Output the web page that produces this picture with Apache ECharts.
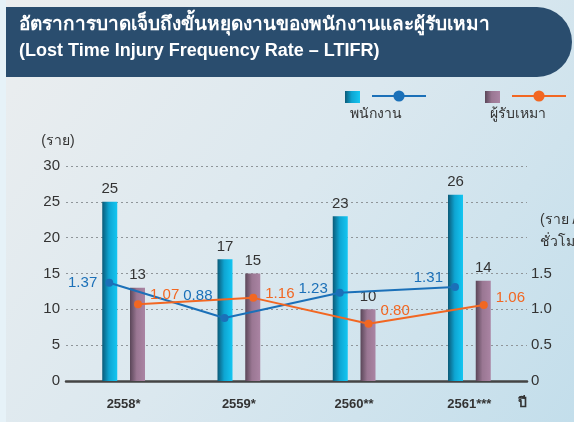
<!DOCTYPE html>
<html><head><meta charset="utf-8">
<script src="https://cdn.jsdelivr.net/npm/echarts@6/dist/echarts.min.js"></script>
<style>html,body{margin:0;padding:0;background:#fff}#c{width:574px;height:422px}</style>
</head><body><div id="c"></div>
<script>
const years = ['2558*', '2559*', '2560**', '2561***'];
const employeeCases = [25, 17, 23, 26];
const contractorCases = [13, 15, 10, 14];
const employeeLTIFR = [1.37, 0.88, 1.23, 1.31];
const contractorLTIFR = [1.07, 1.16, 0.80, 1.06];
const leftTicks = [0, 5, 10, 15, 20, 25, 30];
const rightTickLabels = ['0', '0.5', '1.0', '1.5'];

const FONT = '"Liberation Sans", Arial, "Noto Sans", sans-serif';
const slots = [];
years.forEach((y, i) => { for (let k = 0; k < 4; k++) slots.push(y + '_' + k); });
function slotData(arr, k) {
  const d = new Array(slots.length).fill(null);
  arr.forEach((v, i) => { d[i * 4 + k] = v; });
  return d;
}
const blueOffsets = [[0, 0], [0, -22], [0, -4], [0, -9]];
const orangeOffsets = [[0, -9], [0, -4], [0, -13], [0, -7]];
function lineData(arr, k, offs, pos) {
  const d = slotData(arr, k);
  return d.map((v, idx) => {
    if (v === null) return null;
    const i = Math.floor(idx / 4);
    return { value: v, label: { position: pos, offset: offs[i] } };
  });
}

const blueGrad = { type: 'linear', x: 0, y: 0, x2: 1, y2: 0, colorStops: [
  { offset: 0, color: '#0b5a78' }, { offset: 0.45, color: '#0ea5d2' }, { offset: 1, color: '#14c6f2' }] };
const purpleGrad = { type: 'linear', x: 0, y: 0, x2: 1, y2: 0, colorStops: [
  { offset: 0, color: '#5a4658' }, { offset: 0.45, color: '#9a7793' }, { offset: 1, color: '#aa84a3' }] };

const chart = echarts.init(document.getElementById('c'));
chart.setOption({
  animation: false,
  textStyle: { fontFamily: FONT },
  graphic: [
    { type: 'rect', z: -100, shape: { x: 0, y: 0, width: 574, height: 422 },
      style: { fill: { type: 'linear', x: 0, y: 0, x2: 1, y2: 1, colorStops: [
        { offset: 0, color: '#eceeef' }, { offset: 0.5, color: '#dbe8ef' }, { offset: 1, color: '#c3deeb' }] } } },
    { type: 'rect', z: -99, shape: { x: 0, y: 0, width: 6, height: 422 }, style: { fill: '#e6f2f8' } },
    { type: 'rect', z: 10, shape: { x: 6, y: 7, width: 566, height: 70, r: [0, 35, 35, 0] }, style: { fill: '#2a4d6e' } },
    { type: 'text', z: 11, left: 19, top: 15, style: { text: 'อัตราการบาดเจ็บถึงขั้นหยุดงานของพนักงานและผู้รับเหมา', fill: '#ffffff', font: 'bold 19px ' + FONT } },
    { type: 'text', z: 11, left: 19, top: 42, style: { text: '(Lost Time Injury Frequency Rate – LTIFR)', fill: '#ffffff', font: 'bold 18px ' + FONT } },
    { type: 'text', x: 376, y: 114, style: { text: 'พนักงาน', fill: '#333', font: '14px ' + FONT, align: 'center', verticalAlign: 'middle' } },
    { type: 'text', x: 518, y: 114, style: { text: 'ผู้รับเหมา', fill: '#333', font: '14px ' + FONT, align: 'center', verticalAlign: 'middle' } },
    { type: 'text', x: 58, y: 141, style: { text: '(ราย)', fill: '#333', font: '14px ' + FONT, align: 'center', verticalAlign: 'middle' } },
    { type: 'text', x: 540, y: 220, style: { text: '(ราย / ชั่วโมงทำงาน)', fill: '#333', font: '14px ' + FONT, verticalAlign: 'middle' } },
    { type: 'text', x: 540, y: 242, style: { text: 'ชั่วโมงทำงาน', fill: '#333', font: '14px ' + FONT, verticalAlign: 'middle' } },
    { type: 'text', x: 522, y: 403, style: { text: 'ปี', fill: '#333', font: 'bold 14px ' + FONT, align: 'center', verticalAlign: 'middle' } }
  ],
  legend: [
    { left: 340, top: 86, icon: 'rect', itemWidth: 15, itemHeight: 12, data: ['พนักงาน'], formatter: () => '', textStyle: { fontSize: 1 } },
    { left: 366, top: 84, itemWidth: 54, itemHeight: 14, data: ['LTIFR พนักงาน'], formatter: () => '', textStyle: { fontSize: 1 } },
    { left: 480, top: 86, icon: 'rect', itemWidth: 15, itemHeight: 12, data: ['ผู้รับเหมา'], formatter: () => '', textStyle: { fontSize: 1 } },
    { left: 506, top: 84, itemWidth: 54, itemHeight: 14, data: ['LTIFR ผู้รับเหมา'], formatter: () => '', textStyle: { fontSize: 1 } }
  ],
  grid: { left: 66, right: 47, top: 166, bottom: 41 },
  xAxis: [
    { type: 'category', data: years, axisTick: { show: false },
      axisLine: { lineStyle: { color: '#444', width: 2.5 } },
      axisLabel: { color: '#333', fontWeight: 'bold', fontSize: 13, margin: 17 } },
    { type: 'category', data: slots, show: false }
  ],
  yAxis: [
    { type: 'value', min: 0, max: 30, interval: 5,
      axisLine: { show: false }, axisTick: { show: false },
      axisLabel: { color: '#333', fontSize: 15, margin: 6 },
      splitLine: { lineStyle: { color: '#8f9599', type: [2, 3], width: 1 } } },
    { type: 'value', min: 0, max: 3, interval: 0.5, position: 'right',
      axisLine: { show: false }, axisTick: { show: false }, splitLine: { show: false },
      axisLabel: { color: '#333', fontSize: 15, margin: 4, align: 'left',
        formatter: (v) => { const i = Math.round(v / 0.5); return i < rightTickLabels.length ? rightTickLabels[i] : ''; } } }
  ],
  series: [
    { name: 'พนักงาน', type: 'bar', data: employeeCases, barWidth: 15, barGap: '85%',
      itemStyle: { color: blueGrad },
      label: { show: true, position: 'top', distance: 5, color: '#333', fontSize: 15 } },
    { name: 'ผู้รับเหมา', type: 'bar', data: contractorCases, barWidth: 15, barGap: '85%',
      itemStyle: { color: purpleGrad },
      label: { show: true, position: 'top', distance: 5, color: '#333', fontSize: 15 } },
    { name: 'LTIFR พนักงาน', type: 'line', xAxisIndex: 1, yAxisIndex: 1, connectNulls: true,
      data: lineData(employeeLTIFR, 1, blueOffsets, 'left'), symbol: 'circle', symbolSize: 8,
      lineStyle: { color: '#1b70b8', width: 2 }, itemStyle: { color: '#1b70b8' },
      label: { show: true, distance: 8, color: '#1b70b8', fontSize: 15, formatter: (p) => p.value.toFixed(2) } },
    { name: 'LTIFR ผู้รับเหมา', type: 'line', xAxisIndex: 1, yAxisIndex: 1, connectNulls: true,
      data: lineData(contractorLTIFR, 2, orangeOffsets, 'right'), symbol: 'circle', symbolSize: 8,
      lineStyle: { color: '#f26722', width: 2 }, itemStyle: { color: '#f26722' },
      label: { show: true, distance: 8, color: '#f26722', fontSize: 15, formatter: (p) => p.value.toFixed(2) } }
  ]
});
</script></body></html>
